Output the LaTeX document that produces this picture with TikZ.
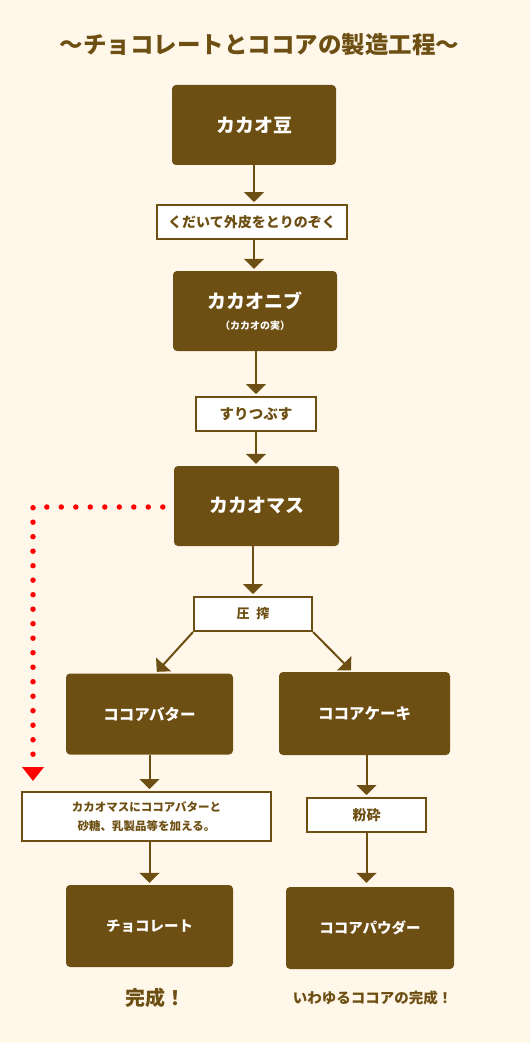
\documentclass[tikz,border=0pt]{standalone}
\usepackage{fontspec}
\setmainfont{Noto Sans CJK JP}
\usetikzlibrary{arrows.meta}
\definecolor{choco}{HTML}{6E4F13}
\definecolor{cream}{HTML}{FFF8EA}

\begin{document}
\begin{tikzpicture}[x=1pt, y=-1pt,
    >={Triangle[width=20pt,length=10pt]},
    bean/.style={fill=choco, rounded corners=4pt, text=white,
        minimum width=165pt, minimum height=80pt, inner sep=0pt,
        font=\bfseries\fontsize{19}{22}\selectfont},
    work/.style={draw=choco, line width=2pt, fill=white, text=choco,
        minimum height=34pt, inner sep=0pt, align=center,
        font=\bfseries\fontsize{14}{17}\selectfont},
    flow/.style={->, draw=choco, line width=2pt, shorten >=2pt},
    mixin/.style={draw=red, line width=5.5pt, line cap=round,
        dash pattern=on 0pt off 14.5pt,
        -{Triangle[width=21pt,length=14pt]}}]

    % background
    \fill[cream] (0,0) rectangle (530,1043);

    % title
    \node[text=choco, font=\bfseries\fontsize{23.5}{26}\selectfont] (title) at (259.5,45)
        {～チョコレートとココアの製造工程～};

    % main column
    \node[bean, minimum width=164pt] (beans) at (254,125) {カカオ豆};
    \node[work, minimum width=190pt] (peel) at (252,222) {くだいて外皮をとりのぞく};
    \node[bean, minimum width=164pt, align=center] (nibs) at (255,311)
        {カカオニブ\\[-1pt]{\fontsize{10}{12}\selectfont（カカオの実）}};
    \node[work, minimum width=120pt, font=\bfseries\fontsize{14.5}{17}\selectfont]
        (grind) at (256,414) {すりつぶす};
    \node[bean] (mass) at (256.5,506) {カカオマス};
    \node[work, minimum width=118pt, font=\bfseries\fontsize{13}{16}\selectfont]
        (press) at (253,614) {圧\hspace{7pt}搾};

    % left branch
    \node[bean, minimum width=167pt, minimum height=81pt,
        font=\bfseries\fontsize{15.5}{18}\selectfont] (butter) at (149.5,714) {ココアバター};
    \node[work, minimum width=249pt, minimum height=49pt,
        font=\bfseries\fontsize{11.5}{19}\selectfont] (mix) at (146.5,816.5)
        {カカオマスにココアバターと\\砂糖、乳製品等を加える。};
    \node[bean, minimum width=167pt, minimum height=82pt,
        font=\bfseries\fontsize{14.5}{17}\selectfont] (choco) at (149.5,926) {チョコレート};
    \node[text=choco, font=\bfseries\fontsize{20}{24}\selectfont] (done) at (155,998) {完成！};

    % right branch
    \node[bean, minimum width=171pt, minimum height=83pt,
        font=\bfseries\fontsize{15.5}{18}\selectfont] (cake) at (364.5,713.5) {ココアケーキ};
    \node[work, minimum width=119pt] (pulverize) at (366.5,815) {粉砕};
    \node[bean, minimum width=168pt, minimum height=82pt,
        font=\bfseries\fontsize{14.5}{17}\selectfont] (powder) at (370,928) {ココアパウダー};
    \node[text=choco, font=\bfseries\fontsize{14.5}{17}\selectfont] (cocoa) at (372.5,998)
        {いわゆるココアの完成！};

    % arrows
    \draw[flow] (beans.south) -- (beans.south |- peel.north);
    \draw[flow] (beans.south |- peel.south) -- (beans.south |- nibs.north);
    \draw[flow] (grind.north |- nibs.south) -- (grind.north);
    \draw[flow] (grind.south) -- (grind.south |- mass.north);
    \draw[flow] (press.north |- mass.south) -- (press.north);
    \draw[flow] (press.south west) -- ([xshift=6pt]butter.north);
    \draw[flow] (press.south east) -- ([xshift=-12pt]cake.north);
    \draw[flow] (butter.south) -- (butter.south |- mix.north);
    \draw[flow] (butter.south |- mix.south) -- (choco.north);
    \draw[flow] (pulverize.north |- cake.south) -- (pulverize.north);
    \draw[flow, shorten >=4pt] (pulverize.south) -- (pulverize.south |- powder.north);

    % cacao mass goes straight into the mix
    \coordinate (drop) at (33,781);
    \draw[mixin] ([xshift=-11pt,yshift=-1pt]mass.west) -| (drop);
\end{tikzpicture}
\end{document}
